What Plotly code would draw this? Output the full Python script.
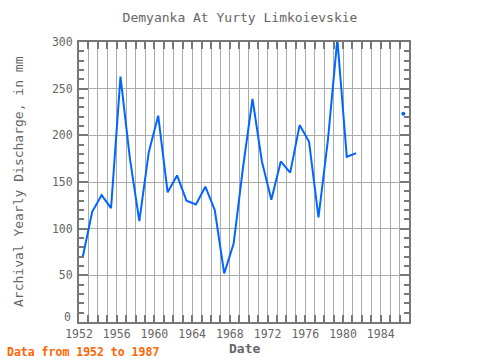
import plotly.graph_objects as go

years = list(range(1952, 1987))
discharge = [70, 118, 136, 122, 263, 175, 108, 182, 221, 139,
             157, 130, 126, 145, 120, 52, 84, 166, 239, 172,
             131, 172, 160, 211, 193, 112, 195, 303, 177, 181,
             None, None, None, None, 223]
x_offset = 0.4  # points sit a little after the year mark
y_tick_vals = [0, 50, 100, 150, 200, 250, 300]
y_tick_text = ["", "50", "100", "150", "200", "250", "300"]  # "0" drawn slightly raised below

xs = [y + x_offset for y in years]

# points with no neighbours are drawn as dots
iso_x, iso_y = [], []
for i, v in enumerate(discharge):
    if v is None:
        continue
    prev_ok = i > 0 and discharge[i - 1] is not None
    next_ok = i < len(discharge) - 1 and discharge[i + 1] is not None
    if not prev_ok and not next_ok:
        iso_x.append(xs[i])
        iso_y.append(v)

blue = "rgb(0,102,255)"
gray = "#777777"
font_mono = "DejaVu Sans Mono"

fig = go.Figure()
fig.add_trace(go.Scatter(x=xs, y=discharge, mode="lines",
                         line=dict(color=blue, width=2), connectgaps=False,
                         showlegend=False, hoverinfo="skip"))
fig.add_trace(go.Scatter(x=iso_x, y=iso_y, mode="markers",
                         marker=dict(color=blue, size=4), showlegend=False))

fig.update_layout(
    width=480, height=360,
    margin=dict(l=79, r=71, t=42, b=38),
    plot_bgcolor="white", paper_bgcolor="white",
    font=dict(family=font_mono, color="#666666", size=11),
    title=dict(text="Demyanka At Yurty Limkoievskie", x=0.5, xanchor="center",
               y=1 - 17 / 360, yanchor="middle", yref="container",
               font=dict(family=font_mono, size=13, color="#666666")),
    xaxis=dict(range=[1952, 1987], tick0=1952, dtick=4, ticks="inside",
               ticklen=7, tickwidth=2, tickcolor=gray,
               showgrid=True, gridcolor="#aaaaaa", gridwidth=1,
               showline=True, linecolor=gray, linewidth=2, mirror="ticks",
               zeroline=False,
               tickfont=dict(family=font_mono, size=11.5, color="#666666"),
               minor=dict(dtick=1, tick0=1952, ticks="inside", ticklen=7,
                          tickwidth=2, tickcolor=gray, showgrid=True,
                          gridcolor="#aaaaaa", gridwidth=1)),
    yaxis=dict(range=[0, 300], tickmode="array", tickvals=y_tick_vals,
               ticktext=y_tick_text, ticks="inside",
               ticklen=9, tickwidth=2, tickcolor=gray,
               showgrid=True, gridcolor="#aaaaaa", gridwidth=1,
               showline=True, linecolor=gray, linewidth=2, mirror="ticks",
               zeroline=False, ticklabelstandoff=2,
               tickfont=dict(family=font_mono, size=11.5, color="#666666"),
               minor=dict(dtick=10, tick0=0, ticks="inside", ticklen=5,
                          tickwidth=2, tickcolor=gray, showgrid=False)),
    annotations=[
        dict(text="0", xref="paper", yref="y", x=0, y=0, xanchor="right",
             yanchor="middle", yshift=5, xshift=-6, showarrow=False,
             font=dict(family=font_mono, size=11.5, color="#666666")),
        dict(text="<b>Date</b>", xref="paper", yref="paper", x=0.5, y=(322 - 348) / 280,
             xanchor="center", yanchor="middle", showarrow=False,
             font=dict(family=font_mono, size=13, color="#666666")),
        dict(text="Archival Yearly Discharge, in mm", xref="paper", yref="paper",
             x=(18 - 79) / 330, y=0.5, textangle=-90, xanchor="center",
             yanchor="middle", showarrow=False,
             font=dict(family=font_mono, size=13, color="#666666")),
        dict(text="<b>Data from 1952 to 1987</b>", xref="paper", yref="paper",
             x=(5 - 79) / 330, y=(322 - 352) / 280, xanchor="left",
             yanchor="middle", showarrow=False,
             font=dict(family=font_mono, size=11.5, color="#ff6600")),
    ],
)

fig.write_html("out.html", config={"displayModeBar": False},
               post_script="document.body.style.margin='0';document.body.style.overflow='hidden';")
